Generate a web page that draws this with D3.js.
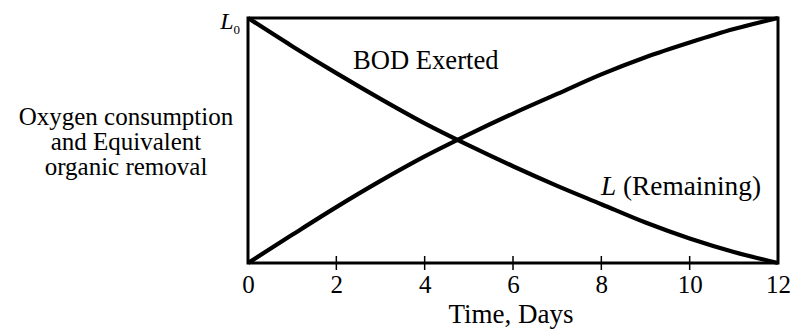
<!DOCTYPE html>
<html>
<head>
<meta charset="utf-8">
<script src="https://cdn.jsdelivr.net/npm/d3@7"></script>
<style>
  html, body { margin: 0; padding: 0; background: #fff; }
  svg { display: block; }
</style>
</head>
<body>
<svg id="chart" width="792" height="330"></svg>
<script>
// ---- data ----
const days = [0, 1, 2, 3, 4, 5, 6, 7, 8, 9, 10, 11, 12];
const bodExerted = [0, 0.115, 0.228, 0.335, 0.435, 0.525, 0.61, 0.69, 0.77, 0.84, 0.9, 0.955, 1];
const remaining  = [1, 0.885, 0.775, 0.67, 0.57, 0.48, 0.395, 0.315, 0.24, 0.165, 0.1, 0.045, 0];
const xTicks = [0, 2, 4, 6, 8, 10, 12];
const yTitleLines = ["Oxygen consumption", "and Equivalent", "organic removal"];

(function () {
const FONT = "'Liberation Serif', 'Times New Roman', Tinos, 'DejaVu Serif', serif";
const svg = d3.select("#chart").style("font-family", FONT);
const pL = 248, pR = 778, pT = 18, pB = 263;

const x = d3.scaleLinear().domain([0, 12]).range([pL, pR]);
const y = d3.scaleLinear().domain([0, 1]).range([pB, pT]);

// tick marks crossing the bottom axis
svg.append("g").selectAll("line").data(xTicks.slice(1, -1)).join("line")
  .attr("x1", d => x(d)).attr("x2", d => x(d))
  .attr("y1", pB - 7).attr("y2", pB + 7)
  .attr("stroke", "#000").attr("stroke-width", 1.5);

// tick labels via axis
const xAxis = d3.axisBottom(x).tickValues(xTicks).tickSize(0).tickPadding(0);
const ax = svg.append("g").attr("transform", `translate(0,${pB})`).call(xAxis);
ax.attr("font-family", null).attr("font-size", null);
ax.select(".domain").remove();
ax.selectAll("text")
  .attr("dy", null).attr("y", 30)
  .style("font-family", FONT)
  .style("font-size", "25px").attr("fill", "#000");

// curves
const line = vals => d3.line()
  .x((d, i) => x(days[i]))
  .y(d => y(d))
  .curve(d3.curveMonotoneX)(vals);

svg.append("path").attr("d", line(bodExerted))
  .attr("fill", "none").attr("stroke", "#000").attr("stroke-width", 4.2)
  .attr("stroke-linejoin", "round");
svg.append("path").attr("d", line(remaining))
  .attr("fill", "none").attr("stroke", "#000").attr("stroke-width", 4.2)
  .attr("stroke-linejoin", "round");

// frame
svg.append("rect")
  .attr("x", pL).attr("y", pT)
  .attr("width", pR - pL).attr("height", pB - pT)
  .attr("fill", "none").attr("stroke", "#000").attr("stroke-width", 3);

// labels
const T = sel => sel.style("font-family", FONT).attr("fill", "#000");

T(svg.append("text")).attr("x", 353).attr("y", 69)
  .style("font-size", "26.6px").text("BOD Exerted");

const lr = T(svg.append("text")).attr("x", 601).attr("y", 195).style("font-size", "27.3px");
lr.append("tspan").style("font-style", "italic").text("L");
lr.append("tspan").text(" (Remaining)");

const l0 = T(svg.append("text")).attr("x", 240).attr("y", 29)
  .attr("text-anchor", "end").style("font-size", "24px");
l0.append("tspan").style("font-style", "italic").text("L");
l0.append("tspan").attr("dy", 5).style("font-size", "13px").text("0");

T(svg.append("g").selectAll("text").data(yTitleLines).join("text"))
  .attr("x", 126).attr("y", (d, i) => 125 + i * 25)
  .attr("text-anchor", "middle").style("font-size", "25px")
  .text(d => d);

T(svg.append("text")).attr("x", 511).attr("y", 323)
  .attr("text-anchor", "middle").style("font-size", "27px").text("Time, Days");
})();
</script>
</body>
</html>
